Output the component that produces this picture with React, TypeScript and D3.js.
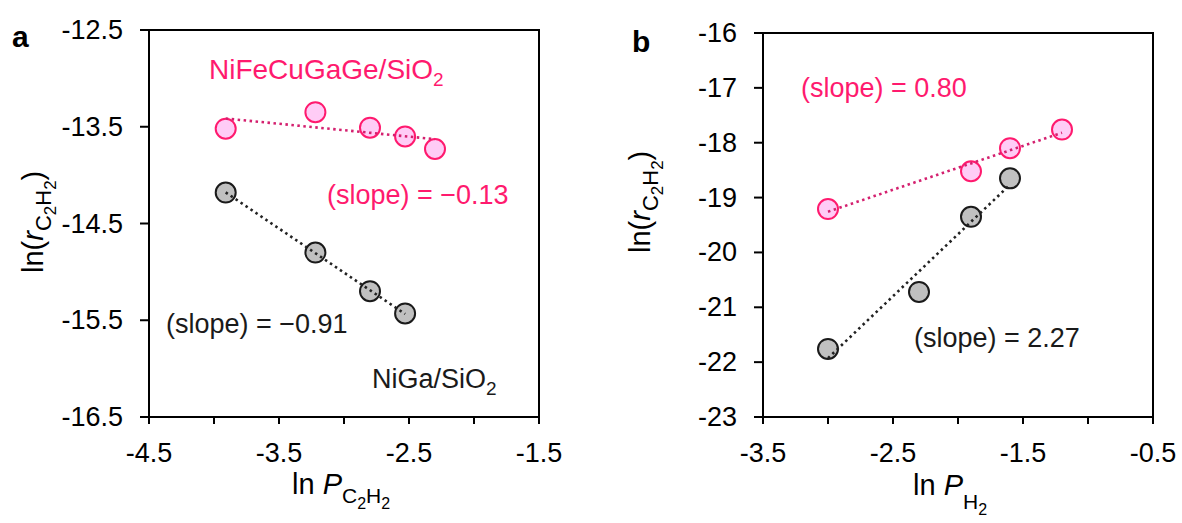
import React from "react";
import * as d3 from "d3";

// ---- Data ----
const panelA_x_NiFeCuGaGe = [-3.91, -3.22, -2.8, -2.53, -2.3];
const panelA_y_NiFeCuGaGe = [-13.52, -13.35, -13.51, -13.6, -13.73];
const panelA_x_NiGa = [-3.91, -3.22, -2.8, -2.53];
const panelA_y_NiGa = [-14.18, -14.8, -15.2, -15.43];

const panelB_x_NiFeCuGaGe = [-3.0, -1.9, -1.6, -1.2];
const panelB_y_NiFeCuGaGe = [-19.21, -18.52, -18.1, -17.76];
const panelB_x_NiGa = [-3.0, -2.3, -1.9, -1.6];
const panelB_y_NiGa = [-21.76, -20.72, -19.35, -18.65];

const panelA_xTickLabels = [-4.5, -3.5, -2.5, -1.5];
const panelA_xMinorTicks = [-4.5, -4.0, -3.5, -3.0, -2.5, -2.0, -1.5];
const panelA_yTicks = [-12.5, -13.5, -14.5, -15.5, -16.5];
const panelB_xTickLabels = [-3.5, -2.5, -1.5, -0.5];
const panelB_xMinorTicks = [-3.5, -3.0, -2.5, -2.0, -1.5, -1.0, -0.5];
const panelB_yTicks = [-16, -17, -18, -19, -20, -21, -22, -23];

const PINK = "#ff1a6e";
const PINK_FILL = "#ffccf6";
const PINK_LINE = "#d4206f";
const GRAY_FILL = "#c0c0c0";
const FONT = "'Liberation Sans', Arial, sans-serif";

function fit(xs: number[], ys: number[]) {
  const mx = d3.mean(xs)!;
  const my = d3.mean(ys)!;
  let sxy = 0, sxx = 0;
  xs.forEach((x, i) => {
    sxy += (x - mx) * (ys[i] - my);
    sxx += (x - mx) * (x - mx);
  });
  const slope = sxy / sxx;
  const b = my - slope * mx;
  const x0 = d3.min(xs)!, x1 = d3.max(xs)!;
  return [
    [x0, slope * x0 + b],
    [x1, slope * x1 + b],
  ];
}

type PanelProps = {
  xDomain: [number, number];
  yDomain: [number, number];
  xRange: [number, number];
  yRange: [number, number];
  xMinor: number[];
  xLabels: number[];
  yTicks: number[];
  yFmt: (v: number) => string;
  series: { xs: number[]; ys: number[]; fill: string; stroke: string; line: string }[];
};

function Panel(p: PanelProps) {
  const x = d3.scaleLinear().domain(p.xDomain).range(p.xRange);
  const y = d3.scaleLinear().domain(p.yDomain).range(p.yRange);
  const line = d3
    .line<number[]>()
    .x((d) => x(d[0]))
    .y((d) => y(d[1]));
  const [l, r] = p.xRange;
  const [b, t] = p.yRange;
  return (
    <g>
      <rect x={l} y={t} width={r - l} height={b - t} fill="none" stroke="#000" strokeWidth={2} />
      {p.xMinor.map((v) => (
        <line key={"xm" + v} x1={x(v)} x2={x(v)} y1={b} y2={b + 7} stroke="#000" strokeWidth={2} />
      ))}
      {p.xLabels.map((v) => (
        <text key={"xl" + v} x={x(v)} y={462} textAnchor="middle" fontSize={27} fontFamily={FONT} fill="#000">
          {v.toFixed(1)}
        </text>
      ))}
      {p.yTicks.map((v) => (
        <g key={"y" + v}>
          <line x1={l - 9} x2={l} y1={y(v)} y2={y(v)} stroke="#000" strokeWidth={2} />
          <text x={l - 26} y={y(v) + 9} textAnchor="end" fontSize={27} fontFamily={FONT} fill="#000">
            {p.yFmt(v)}
          </text>
        </g>
      ))}
      {p.series.map((s, i) => (
        <g key={"s" + i}>
          {s.xs.map((xv, j) => (
            <circle key={j} cx={x(xv)} cy={y(s.ys[j])} r={10} fill={s.fill} stroke={s.stroke} strokeWidth={2} />
          ))}
          <path
            d={line(fit(s.xs, s.ys)) || ""}
            fill="none"
            stroke={s.line}
            strokeWidth={2.6}
            strokeDasharray="2.5,3.5"
          />
        </g>
      ))}
    </g>
  );
}

function YLabel({ tx, ty }: { tx: number; ty: number }) {
  return (
    <text transform={`translate(${tx},${ty}) rotate(-90)`} fontSize={29} fontFamily={FONT} fill="#000">
      ln(<tspan fontStyle="italic">r</tspan>
      <tspan fontSize={22} dy={8}>C</tspan>
      <tspan fontSize={17} dy={5}>2</tspan>
      <tspan fontSize={22} dy={-5}>H</tspan>
      <tspan fontSize={17} dy={5}>2</tspan>
      <tspan fontSize={29} dy={-13}>)</tspan>
    </text>
  );
}

export default function App() {
  return (
    <svg width={1182} height={523} style={{ position: "absolute", left: 0, top: 0, background: "#fff" }}>
      <rect width={1182} height={523} fill="#fff" />
      {/* Panel a */}
      <Panel
        xDomain={[-4.5, -1.5]}
        yDomain={[-16.5, -12.5]}
        xRange={[149, 539]}
        yRange={[417, 30]}
        xMinor={panelA_xMinorTicks}
        xLabels={panelA_xTickLabels}
        yTicks={panelA_yTicks}
        yFmt={(v) => v.toFixed(1)}
        series={[
          { xs: panelA_x_NiFeCuGaGe, ys: panelA_y_NiFeCuGaGe, fill: PINK_FILL, stroke: PINK, line: PINK_LINE },
          { xs: panelA_x_NiGa, ys: panelA_y_NiGa, fill: GRAY_FILL, stroke: "#1a1a1a", line: "#222" },
        ]}
      />
      <text x={12} y={47} fontSize={30} fontWeight="bold" fontFamily={FONT}>a</text>
      <text x={209} y={79} fontSize={28} fontFamily={FONT} fill={PINK}>
        NiFeCuGaGe/SiO<tspan fontSize={19} dy={7}>2</tspan>
      </text>
      <text x={327} y={204} fontSize={27} fontFamily={FONT} fill={PINK}>(slope) = −0.13</text>
      <text x={166} y={333} fontSize={27} fontFamily={FONT} fill="#1a1a1a">(slope) = −0.91</text>
      <text x={372} y={388} fontSize={27} fontFamily={FONT} fill="#1a1a1a">
        NiGa/SiO<tspan fontSize={19} dy={7}>2</tspan>
      </text>
      <YLabel tx={43} ty={273} />
      <text x={292} y={494} fontSize={29} fontFamily={FONT}>
        ln <tspan fontStyle="italic">P</tspan>
        <tspan fontSize={21} dy={9}>C</tspan>
        <tspan fontSize={16} dy={6}>2</tspan>
        <tspan fontSize={21} dy={-6}>H</tspan>
        <tspan fontSize={16} dy={6}>2</tspan>
      </text>

      {/* Panel b */}
      <Panel
        xDomain={[-3.5, -0.5]}
        yDomain={[-23, -16]}
        xRange={[763, 1153]}
        yRange={[417, 33]}
        xMinor={panelB_xMinorTicks}
        xLabels={panelB_xTickLabels}
        yTicks={panelB_yTicks}
        yFmt={(v) => String(v)}
        series={[
          { xs: panelB_x_NiFeCuGaGe, ys: panelB_y_NiFeCuGaGe, fill: PINK_FILL, stroke: PINK, line: PINK_LINE },
          { xs: panelB_x_NiGa, ys: panelB_y_NiGa, fill: GRAY_FILL, stroke: "#1a1a1a", line: "#222" },
        ]}
      />
      <text x={632} y={52} fontSize={30} fontWeight="bold" fontFamily={FONT}>b</text>
      <text x={801} y={97} fontSize={27} fontFamily={FONT} fill={PINK}>(slope) = 0.80</text>
      <text x={914} y={347} fontSize={27} fontFamily={FONT} fill="#1a1a1a">(slope) = 2.27</text>
      <YLabel tx={650} ty={253} />
      <text x={913} y={495} fontSize={29} fontFamily={FONT}>
        ln <tspan fontStyle="italic">P</tspan>
        <tspan fontSize={21} dy={14}>H</tspan>
        <tspan fontSize={16} dy={6}>2</tspan>
      </text>
    </svg>
  );
}
